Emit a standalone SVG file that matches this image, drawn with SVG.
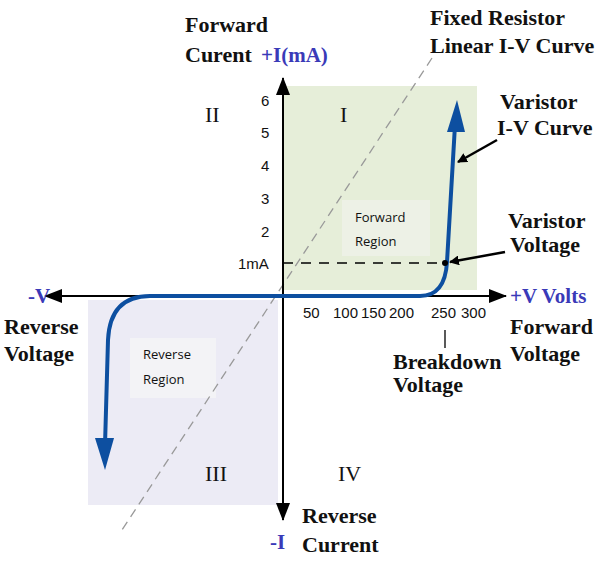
<svg xmlns="http://www.w3.org/2000/svg" width="600" height="570" viewBox="0 0 600 570">
<style>
.b{font-family:"Liberation Serif",serif;font-weight:bold;font-size:22px;fill:#111}
.bl{font-family:"Liberation Serif",serif;font-weight:bold;font-size:21px;fill:#3a3ab8}
.q{font-family:"Liberation Serif",serif;font-size:22px;fill:#111}
.n{font-family:"Liberation Sans",sans-serif;font-size:15px;fill:#111}
.s{font-family:"Open Sans",sans-serif;font-size:13px;fill:#111}
</style>
<defs>
<marker id="ah" markerWidth="10" markerHeight="10" refX="9" refY="5" orient="auto" markerUnits="userSpaceOnUse" viewBox="0 0 10 10"><path d="M0,0L10,5L0,10z" fill="#000"/></marker>
<marker id="ax" markerWidth="18" markerHeight="14" refX="17" refY="7" orient="auto" markerUnits="userSpaceOnUse" viewBox="0 0 18 14"><path d="M0,0L18,7L0,14z" fill="#000"/></marker>
</defs>
<rect width="600" height="570" fill="#fff"/>
<g id="regions">
<rect x="283" y="86" width="194" height="204" fill="#e6eed9"/>
<rect x="88" y="300" width="190" height="205" fill="#ecebf5"/>
<rect x="342" y="200" width="88" height="56" fill="#edf1e6"/>
<rect x="130" y="338" width="86" height="60" fill="#f3f3f6"/>
</g>
<g id="connectors">
<line x1="432" y1="58" x2="120" y2="533" stroke="#999" stroke-width="1.3" stroke-dasharray="9,6"/>
<line x1="283" y1="520" x2="283" y2="78" stroke="#000" stroke-width="2" marker-end="url(#ax)"/>
<line x1="283" y1="296" x2="283" y2="520" stroke="#000" stroke-width="2" marker-end="url(#ax)"/>
<line x1="283" y1="296" x2="45" y2="296" stroke="#000" stroke-width="2" marker-end="url(#ax)"/>
<line x1="283" y1="296" x2="506" y2="296" stroke="#000" stroke-width="2" marker-end="url(#ax)"/>
<line x1="283" y1="263" x2="445" y2="263" stroke="#000" stroke-width="1.5" stroke-dasharray="10,8"/>
<line x1="445" y1="330" x2="445" y2="348" stroke="#000" stroke-width="1.3"/>
<path d="M105,445 L108,340 Q110,296 150,296 L420,296 Q445,296 447,262 L455,125" fill="none" stroke="#0d4fa0" stroke-width="4"/>
<polygon points="457,100 447,132 465,132" fill="#0d4fa0"/>
<polygon points="105,470 95,438 114,438" fill="#0d4fa0"/>
<circle cx="445" cy="263" r="3" fill="#000"/>
<line x1="497" y1="140" x2="458" y2="162" stroke="#000" stroke-width="2.5" marker-end="url(#ah)"/>
<line x1="505" y1="252" x2="450" y2="262" stroke="#000" stroke-width="2.5" marker-end="url(#ah)"/>
</g>
<g id="labels">
<text class="b" x="185" y="32">Forward</text>
<text class="b" x="185" y="62">Curent</text>
<text class="bl" x="261" y="62">+I(mA)</text>
<text class="b" x="430" y="25" font-size="19">Fixed Resistor</text>
<text class="b" x="430" y="53" font-size="19">Linear I-V Curve</text>
<text class="b" x="500" y="109" font-size="20">Varistor</text>
<text class="b" x="497" y="135" font-size="20">I-V Curve</text>
<text class="b" x="508" y="228" font-size="20">Varistor</text>
<text class="b" x="510" y="252" font-size="20">Voltage</text>
<text class="bl" x="28" y="303">-V</text>
<text class="bl" x="510" y="303" font-size="19">+V Volts</text>
<text class="b" x="4" y="334" font-size="20">Reverse</text>
<text class="b" x="4" y="361" font-size="20">Voltage</text>
<text class="b" x="510" y="334" font-size="20">Forward</text>
<text class="b" x="510" y="361" font-size="20">Voltage</text>
<text class="b" x="393" y="369" font-size="15">Breakdown</text>
<text class="b" x="393" y="392" font-size="15">Voltage</text>
<text class="b" x="302" y="523">Reverse</text>
<text class="b" x="302" y="552">Current</text>
<text class="bl" x="270" y="549">-I</text>
<text class="q" x="205" y="122">II</text>
<text class="q" x="340" y="122">I</text>
<text class="q" x="205" y="481">III</text>
<text class="q" x="338" y="481">IV</text>
<text class="n" x="261" y="106">6</text>
<text class="n" x="261" y="138">5</text>
<text class="n" x="261" y="171">4</text>
<text class="n" x="261" y="204">3</text>
<text class="n" x="261" y="237">2</text>
<text class="n" x="238" y="269" font-size="13">1mA</text>
<text class="n" x="303" y="318">50</text>
<text class="n" x="333" y="318">100</text>
<text class="n" x="361" y="318">150</text>
<text class="n" x="389" y="318">200</text>
<text class="n" x="431" y="318">250</text>
<text class="n" x="461" y="318">300</text>
<text class="s" x="355" y="222">Forward</text>
<text class="s" x="355" y="246">Region</text>
<text class="s" x="143" y="359">Reverse</text>
<text class="s" x="143" y="384">Region</text>
</g>
</svg>
